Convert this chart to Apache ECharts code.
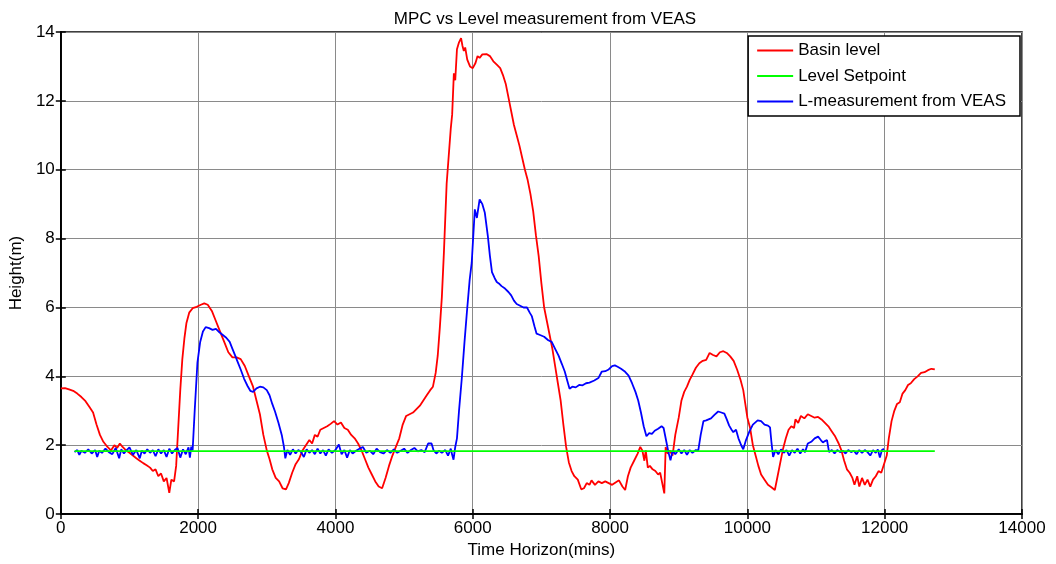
<!DOCTYPE html>
<html>
<head>
<meta charset="utf-8">
<script src="https://cdn.jsdelivr.net/npm/echarts@6/dist/echarts.min.js"></script>
<style>html,body{margin:0;padding:0;background:#fff;}#chart{width:1056px;height:564px;}</style>
</head>
<body>
<div id="chart"></div>
<script>
// ---- data (time in mins, height in m) ----
const seriesNames = ["Basin level", "Level Setpoint", "L-measurement from VEAS"];
const xTicks = [0, 2000, 4000, 6000, 8000, 10000, 12000, 14000];
const yTicks = [0, 2, 4, 6, 8, 10, 12, 14];

const basinLevel = [
 [0,3.65],[60,3.66],[120,3.62],[180,3.58],[240,3.50],[300,3.40],[360,3.28],[420,3.10],[470,2.95],[520,2.60],
 [570,2.30],[620,2.10],[680,1.95],[730,1.85],[780,2.00],[820,1.92],[860,2.05],[900,1.95],[950,1.85],[1000,1.78],
 [1050,1.70],[1100,1.62],[1150,1.55],[1200,1.48],[1250,1.42],[1300,1.35],[1340,1.25],[1380,1.30],[1420,1.10],[1460,1.18],
 [1500,0.95],[1540,1.05],[1580,0.62],[1610,1.00],[1650,0.95],[1680,1.40],[1710,2.50],[1740,3.60],[1770,4.50],[1800,5.10],
 [1830,5.55],[1870,5.85],[1920,5.98],[1980,6.02],[2040,6.08],[2090,6.12],[2140,6.08],[2200,5.90],[2260,5.60],[2320,5.30],
 [2380,5.00],[2440,4.70],[2500,4.55],[2560,4.55],[2620,4.50],[2680,4.30],[2740,4.00],[2800,3.70],[2850,3.30],[2900,2.90],
 [2950,2.30],[3000,1.85],[3040,1.60],[3080,1.30],[3130,1.05],[3180,0.95],[3230,0.75],[3280,0.72],[3320,0.90],[3370,1.20],
 [3420,1.45],[3470,1.60],[3520,1.85],[3570,2.00],[3620,2.15],[3660,2.05],[3700,2.30],[3740,2.25],[3780,2.45],[3830,2.50],
 [3880,2.55],[3930,2.62],[3980,2.70],[4030,2.60],[4080,2.66],[4130,2.50],[4180,2.45],[4230,2.30],[4280,2.20],[4330,2.05],
 [4380,1.85],[4430,1.60],[4480,1.35],[4530,1.15],[4580,0.95],[4630,0.80],[4680,0.75],[4730,1.05],[4780,1.40],[4830,1.70],
 [4880,1.95],[4930,2.20],[4980,2.60],[5030,2.85],[5080,2.90],[5130,2.95],[5180,3.05],[5230,3.15],[5280,3.30],[5330,3.45],
 [5380,3.60],[5420,3.70],[5460,4.10],[5490,4.60],[5520,5.40],[5550,6.30],[5580,7.60],[5620,9.60],[5650,10.40],[5680,11.20],
 [5700,11.60],[5725,12.80],[5745,12.60],[5770,13.50],[5800,13.70],[5830,13.82],[5850,13.60],[5870,13.45],[5890,13.55],[5920,13.20],
 [5960,13.00],[6000,12.95],[6040,13.10],[6070,13.30],[6100,13.25],[6140,13.35],[6200,13.36],[6250,13.30],[6300,13.15],[6350,13.05],
 [6400,12.95],[6440,12.75],[6480,12.50],[6520,12.10],[6560,11.70],[6600,11.30],[6640,11.00],[6680,10.70],[6720,10.35],[6760,10.00],
 [6800,9.70],[6840,9.30],[6880,8.80],[6920,8.10],[6960,7.50],[7000,6.70],[7040,6.00],[7080,5.60],[7120,5.20],[7160,4.80],
 [7200,4.30],[7240,3.80],[7280,3.30],[7320,2.60],[7360,1.95],[7400,1.50],[7440,1.25],[7480,1.10],[7530,1.00],[7580,0.72],
 [7620,0.75],[7660,0.90],[7700,0.85],[7730,0.98],[7780,0.85],[7830,0.95],[7880,0.90],[7930,0.95],[7980,0.90],[8030,0.85],
 [8080,0.92],[8130,0.98],[8180,0.80],[8220,0.70],[8260,1.10],[8300,1.35],[8350,1.55],[8400,1.75],[8440,1.95],[8470,1.85],
 [8500,1.55],[8520,1.85],[8550,1.35],[8580,1.40],[8620,1.30],[8660,1.25],[8700,1.15],[8730,1.20],[8760,0.90],[8790,0.60],
 [8810,1.95],[8840,1.75],[8870,1.85],[8910,1.70],[8950,2.30],[9000,2.80],[9040,3.30],[9080,3.55],[9120,3.70],[9160,3.90],
 [9200,4.05],[9250,4.25],[9300,4.38],[9350,4.45],[9400,4.48],[9450,4.68],[9500,4.62],[9550,4.58],[9600,4.70],[9650,4.73],
 [9700,4.68],[9750,4.58],[9800,4.45],[9850,4.20],[9900,3.90],[9940,3.60],[9970,3.20],[10000,2.80],[10040,2.50],[10080,2.00],
 [10120,1.70],[10160,1.40],[10200,1.15],[10250,1.00],[10300,0.85],[10350,0.78],[10400,0.70],[10440,1.10],[10480,1.50],[10520,1.90],
 [10560,2.20],[10600,2.45],[10640,2.55],[10680,2.50],[10700,2.75],[10740,2.65],[10780,2.85],[10830,2.78],[10880,2.90],[10930,2.85],
 [10980,2.80],[11030,2.82],[11080,2.75],[11130,2.65],[11180,2.55],[11230,2.40],[11280,2.25],[11330,2.05],[11370,1.85],[11410,1.55],
 [11450,1.30],[11490,1.20],[11530,1.05],[11560,0.85],[11600,1.10],[11630,0.80],[11670,1.05],[11710,0.85],[11750,1.00],[11790,0.80],
 [11830,1.00],[11870,1.10],[11910,1.25],[11950,1.20],[11990,1.45],[12030,1.70],[12060,2.20],[12100,2.70],[12140,3.00],[12180,3.20],
 [12220,3.25],[12260,3.50],[12300,3.60],[12340,3.75],[12380,3.80],[12430,3.92],[12480,4.00],[12530,4.10],[12580,4.12],[12630,4.18],
 [12680,4.22],[12730,4.20]
];

const levelSetpoint = [[200,1.83],[12730,1.83]];

const lMeasurement = [
 [200,1.80],[240,1.86],[270,1.72],[300,1.84],[350,1.78],[400,1.88],[450,1.76],[500,1.86],[530,1.66],[560,1.84],[600,1.78],[650,1.90],
 [700,1.80],[750,1.74],[800,1.92],[850,1.62],[880,1.88],[920,1.76],[960,1.86],[1000,1.94],[1050,1.72],[1100,1.86],[1150,1.62],
 [1180,1.84],[1220,1.76],[1260,1.88],[1300,1.78],[1340,1.86],[1380,1.68],[1420,1.88],[1460,1.76],[1500,1.86],[1540,1.66],[1580,1.90],[1620,1.76],[1660,1.86],
 [1700,1.92],[1740,1.64],[1780,1.88],[1820,1.74],[1860,1.94],[1880,1.64],[1900,1.96],[1920,1.85],[1950,3.00],[1990,4.40],[2030,5.00],[2070,5.30],
 [2110,5.43],[2160,5.40],[2210,5.35],[2260,5.38],[2310,5.28],[2360,5.20],[2410,5.12],[2460,5.00],[2500,4.80],[2540,4.60],
 [2580,4.40],[2620,4.20],[2670,3.93],[2720,3.72],[2760,3.58],[2800,3.55],[2850,3.65],[2900,3.70],[2950,3.68],[3000,3.60],
 [3040,3.45],[3080,3.20],[3120,2.98],[3170,2.65],[3220,2.28],[3250,1.95],[3270,1.62],[3300,1.86],[3340,1.72],[3380,1.88],
 [3420,1.76],[3460,1.86],[3500,1.80],[3540,1.66],[3580,1.88],[3620,1.78],[3660,1.86],[3700,1.74],[3740,1.90],[3780,1.76],[3820,1.86],[3860,1.70],[3900,1.88],
 [3950,1.78],[4000,1.86],[4050,2.02],[4090,1.74],[4130,1.86],[4170,1.64],[4210,1.86],[4250,1.76],[4300,1.84],[4350,1.90],[4400,1.95],
 [4450,1.78],[4500,1.84],[4550,1.74],[4600,1.90],[4650,1.80],[4700,1.76],[4750,1.86],[4800,1.78],[4850,1.88],[4900,1.78],
 [4950,1.84],[5000,1.90],[5050,1.78],[5100,1.86],[5150,1.92],[5200,1.82],[5250,1.86],[5300,1.80],[5350,2.05],[5400,2.05],
 [5430,1.85],[5470,1.76],[5510,1.84],[5550,1.78],[5600,1.86],[5640,1.70],[5680,1.90],[5700,1.72],[5720,1.58],[5745,1.95],
 [5770,2.20],[5800,3.00],[5840,3.93],[5880,5.00],[5915,5.87],[5955,6.80],[5985,7.30],[6030,8.85],[6060,8.60],[6100,9.14],
 [6140,9.00],[6175,8.76],[6220,8.07],[6250,7.50],[6280,7.03],[6320,6.85],[6350,6.74],[6380,6.70],[6420,6.62],[6470,6.55],
 [6520,6.45],[6560,6.35],[6600,6.20],[6640,6.10],[6690,6.05],[6740,6.00],[6790,6.00],[6830,5.85],[6860,5.75],[6900,5.45],
 [6930,5.24],[6980,5.20],[7040,5.15],[7100,5.05],[7150,5.00],[7200,4.80],[7250,4.60],[7300,4.35],[7340,4.14],[7380,3.85],
 [7410,3.64],[7450,3.70],[7500,3.68],[7550,3.75],[7600,3.74],[7650,3.80],[7700,3.82],[7770,3.88],[7830,3.95],[7880,4.14],
 [7930,4.15],[7980,4.20],[8030,4.30],[8070,4.32],[8110,4.28],[8160,4.22],[8210,4.15],[8270,4.02],[8320,3.80],[8370,3.55],
 [8410,3.30],[8450,2.95],[8490,2.55],[8530,2.26],[8570,2.35],[8610,2.33],[8650,2.42],[8700,2.48],[8750,2.55],[8780,2.50],
 [8820,2.10],[8850,1.80],[8880,1.56],[8910,1.84],[8950,1.74],[9000,1.88],[9040,1.76],[9080,1.86],[9120,1.72],[9160,1.86],[9200,1.78],
 [9250,1.86],[9285,1.85],[9320,2.30],[9360,2.70],[9400,2.72],[9470,2.78],[9520,2.88],[9575,2.98],[9620,2.95],[9665,2.92],
 [9700,2.75],[9735,2.57],[9770,2.45],[9795,2.38],[9835,2.45],[9870,2.20],[9910,2.00],[9940,1.88],[9980,2.15],[10030,2.40],
 [10080,2.60],[10150,2.72],[10200,2.70],[10250,2.60],[10300,2.57],[10330,2.52],[10350,2.10],[10375,1.66],[10410,1.86],[10450,1.74],
 [10490,1.88],[10530,1.78],[10570,1.86],[10610,1.70],[10650,1.86],[10690,1.78],[10730,1.90],[10770,1.76],[10810,1.88],[10840,1.80],[10880,2.05],[10930,2.10],
 [10980,2.20],[11030,2.25],[11070,2.15],[11100,2.08],[11130,2.12],[11160,2.15],[11190,1.80],[11230,1.86],[11270,1.76],[11310,1.86],
 [11350,1.80],[11390,1.84],[11430,1.76],[11470,1.86],[11510,1.80],[11550,1.84],[11590,1.74],[11630,1.86],[11670,1.78],[11710,1.86],[11750,1.80],[11790,1.70],
 [11830,1.86],[11870,1.78],[11900,1.88],[11930,1.64],[11960,1.86],[11990,1.90]
];

// ---- chart ----
const FONT = "'Liberation Sans', Arial, sans-serif";
const chart = echarts.init(document.getElementById('chart'), null, {renderer: 'canvas'});
const xMin = xTicks[0], xMax = xTicks[xTicks.length - 1], xStep = xTicks[1] - xTicks[0];
const yMin = yTicks[0], yMax = yTicks[yTicks.length - 1], yStep = yTicks[1] - yTicks[0];
const txt = {color: '#000', fontFamily: FONT, fontSize: 17};
const plain = v => String(v);

chart.setOption({
  animation: false,
  backgroundColor: '#fff',
  title: {
    text: 'MPC vs Level measurement from VEAS',
    left: 540, top: 6, textAlign: 'center',
    textStyle: {color: '#000', fontFamily: FONT, fontSize: 17, fontWeight: 'normal'}
  },
  legend: {
    orient: 'vertical', right: 36, top: 36,
    backgroundColor: '#fff', borderColor: '#000', borderWidth: 1.5,
    padding: [6, 14, 6, 9], itemGap: 8.5, itemWidth: 36, itemHeight: 2,
    icon: 'rect',
    textStyle: {color: '#000', fontFamily: FONT, fontSize: 17, lineHeight: 17},
    data: seriesNames
  },
  grid: {left: 58, right: 34, top: 32, bottom: 48, show: true, borderColor: '#000', borderWidth: 1.5},
  xAxis: [{
    type: 'value', min: xMin, max: xMax, interval: xStep, position: 'bottom',
    axisLine: {show: true, lineStyle: {color: '#000', width: 1.5}},
    axisTick: {show: true, inside: true, length: 5, lineStyle: {color: '#000', width: 1.5}},
    axisLabel: Object.assign({margin: 6, formatter: plain}, txt),
    splitLine: {show: true, lineStyle: {color: '#8a8a8a', width: 1}},
    name: 'Time Horizon(mins)', nameLocation: 'middle', nameGap: 25, nameTextStyle: txt
  }, {
    type: 'value', min: xMin, max: xMax, interval: xStep, position: 'top',
    axisLine: {show: true, lineStyle: {color: '#000', width: 1.5}},
    axisTick: {show: true, inside: true, length: 5, lineStyle: {color: '#000', width: 1.5}},
    axisLabel: {show: false}, splitLine: {show: false}
  }],
  yAxis: [{
    type: 'value', min: yMin, max: yMax, interval: yStep, position: 'left',
    axisLine: {show: true, lineStyle: {color: '#000', width: 1.5}},
    axisTick: {show: true, inside: true, length: 5, lineStyle: {color: '#000', width: 1.5}},
    axisLabel: Object.assign({margin: 6, formatter: plain}, txt),
    splitLine: {show: true, lineStyle: {color: '#8a8a8a', width: 1}},
    name: 'Height(m)', nameLocation: 'middle', nameGap: 31, nameRotate: 90, nameTextStyle: txt
  }, {
    type: 'value', min: yMin, max: yMax, interval: yStep, position: 'right',
    axisLine: {show: true, lineStyle: {color: '#000', width: 1.5}},
    axisTick: {show: true, inside: true, length: 5, lineStyle: {color: '#000', width: 1.5}},
    axisLabel: {show: false}, splitLine: {show: false}
  }],
  series: [
    {name: seriesNames[0], type: 'line', data: basinLevel, symbol: 'none', z: 2,
     lineStyle: {color: '#ff0000', width: 1.8}, itemStyle: {color: '#ff0000'}},
    {name: seriesNames[1], type: 'line', data: levelSetpoint, symbol: 'none', z: 4,
     lineStyle: {color: '#00ff00', width: 1.8}, itemStyle: {color: '#00ff00'}},
    {name: seriesNames[2], type: 'line', data: lMeasurement, symbol: 'none', z: 3,
     lineStyle: {color: '#0000ff', width: 1.8}, itemStyle: {color: '#0000ff'}}
  ]
});
</script>
</body>
</html>
